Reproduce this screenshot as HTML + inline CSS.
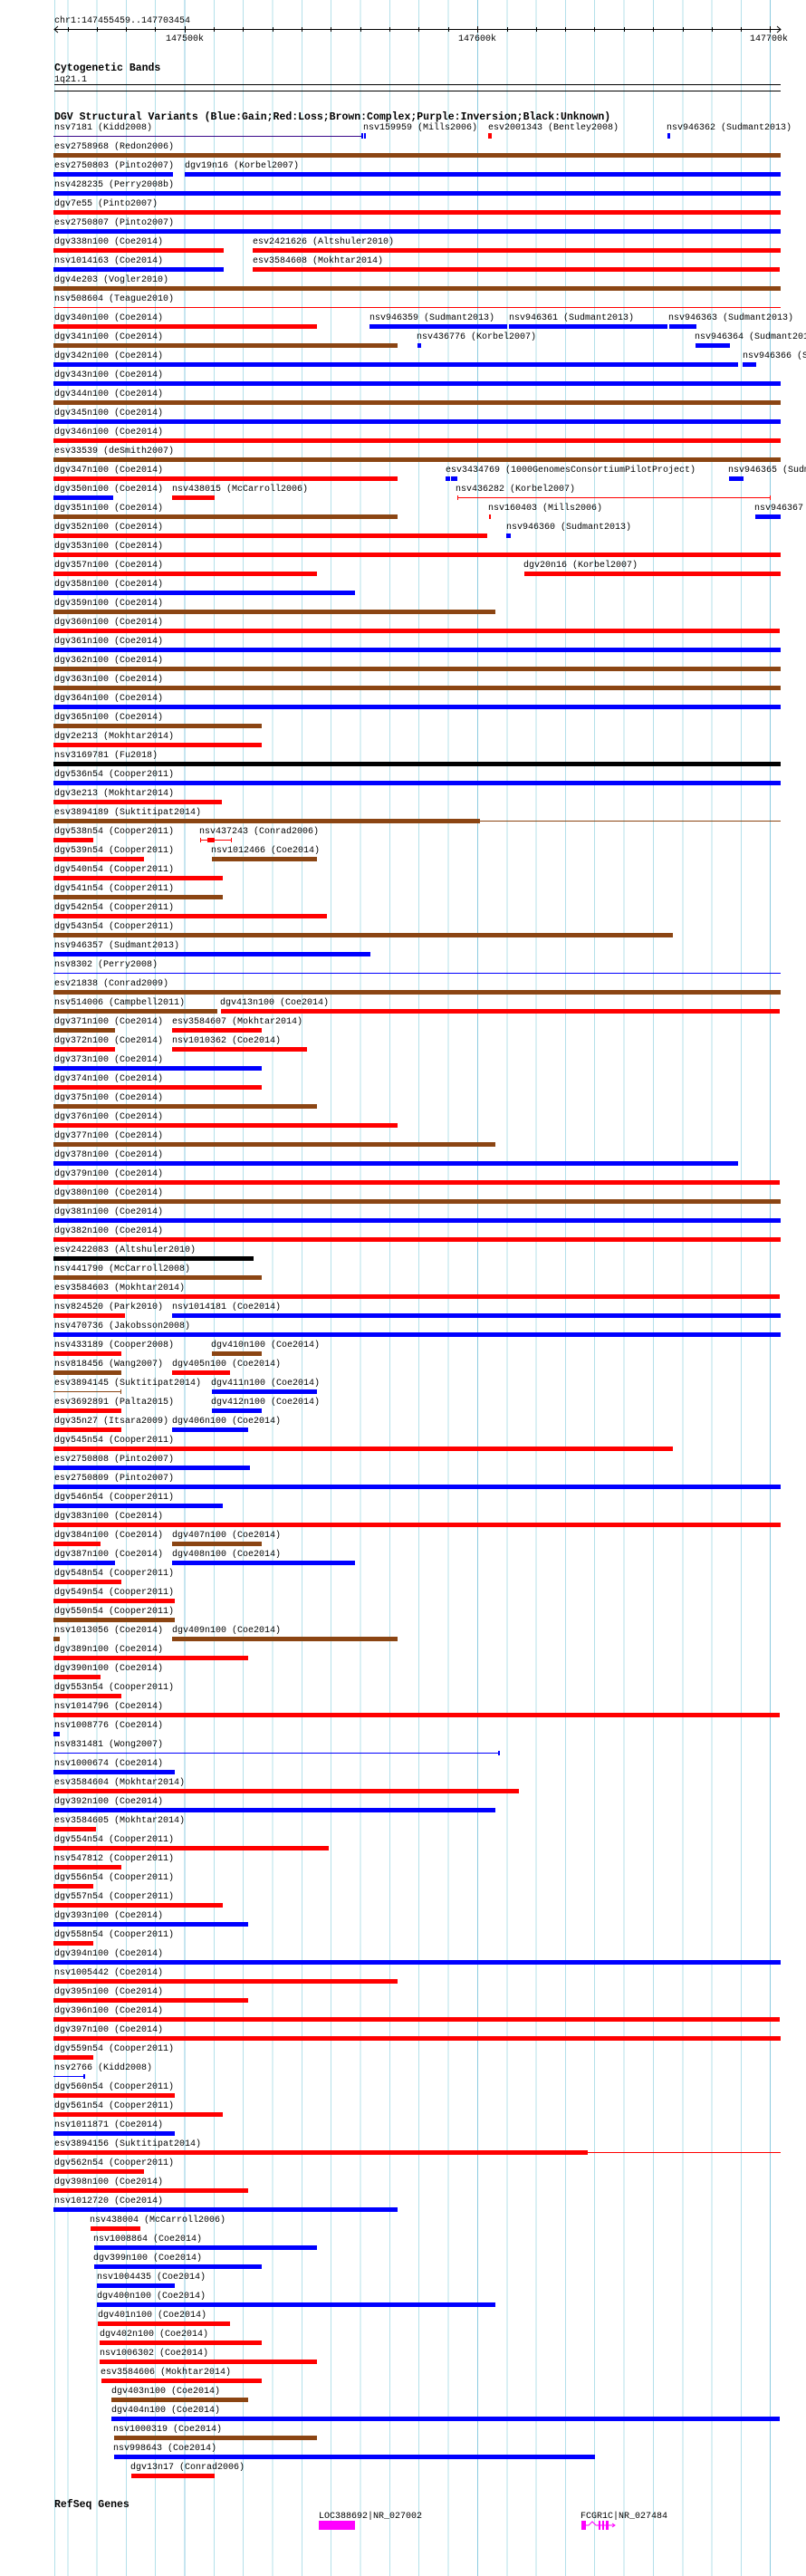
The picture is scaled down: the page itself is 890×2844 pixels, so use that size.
<!DOCTYPE html>
<html><head><meta charset="utf-8"><style>
html,body{margin:0;padding:0;background:#fff;}
svg{display:block}
text{font-family:"Liberation Mono",monospace;font-size:10px;fill:#000}
.b{font-weight:bold;font-size:11.5px}
.B{fill:#0000ff}.R{fill:#ff0000}.N{fill:#8b4513}.K{fill:#000}
</style></head><body>
<svg width="890" height="2844" viewBox="0 0 890 2844" xmlns="http://www.w3.org/2000/svg">
<rect width="890" height="2844" fill="#fff"/>
<g stroke="#b4e0ea" stroke-width="1">
<line x1="60.5" y1="0" x2="60.5" y2="2844"/>
<line x1="75" y1="0" x2="75" y2="2844"/><line x1="107" y1="0" x2="107" y2="2844"/><line x1="139.5" y1="0" x2="139.5" y2="2844"/><line x1="171.5" y1="0" x2="171.5" y2="2844"/>
<line x1="236.5" y1="0" x2="236.5" y2="2844"/><line x1="268.5" y1="0" x2="268.5" y2="2844"/><line x1="301" y1="0" x2="301" y2="2844"/><line x1="333.5" y1="0" x2="333.5" y2="2844"/><line x1="365.5" y1="0" x2="365.5" y2="2844"/><line x1="398" y1="0" x2="398" y2="2844"/><line x1="430.5" y1="0" x2="430.5" y2="2844"/><line x1="462.5" y1="0" x2="462.5" y2="2844"/><line x1="495" y1="0" x2="495" y2="2844"/>
<line x1="560" y1="0" x2="560" y2="2844"/><line x1="592" y1="0" x2="592" y2="2844"/><line x1="624.5" y1="0" x2="624.5" y2="2844"/><line x1="656.5" y1="0" x2="656.5" y2="2844"/><line x1="689" y1="0" x2="689" y2="2844"/><line x1="721.5" y1="0" x2="721.5" y2="2844"/><line x1="754" y1="0" x2="754" y2="2844"/><line x1="786" y1="0" x2="786" y2="2844"/><line x1="818.5" y1="0" x2="818.5" y2="2844"/>
</g>
<g stroke="#8ccbe0" stroke-width="1">
<line x1="204" y1="0" x2="204" y2="2844"/><line x1="527.5" y1="0" x2="527.5" y2="2844"/><line x1="850.5" y1="0" x2="850.5" y2="2844"/>
</g>
<!-- ruler -->
<text x="60" y="25">chr1:147455459..147703454</text>
<rect x="60" y="32" width="802" height="1" fill="#000"/>
<path d="M64 29 L60 32.5 L64 36 M858 29 L862 32.5 L858 36" stroke="#000" fill="none"/>
<g fill="#000">
<rect x="75" y="30" width="1" height="5"/><rect x="107" y="30" width="1" height="5"/><rect x="139" y="30" width="1" height="5"/><rect x="171" y="30" width="1" height="5"/><rect x="204" y="29" width="1" height="7"/><rect x="236" y="30" width="1" height="5"/><rect x="268" y="30" width="1" height="5"/><rect x="301" y="30" width="1" height="5"/><rect x="333" y="30" width="1" height="5"/><rect x="365" y="30" width="1" height="5"/><rect x="398" y="30" width="1" height="5"/><rect x="430" y="30" width="1" height="5"/><rect x="462" y="30" width="1" height="5"/><rect x="495" y="30" width="1" height="5"/><rect x="527" y="29" width="1" height="7"/><rect x="560" y="30" width="1" height="5"/><rect x="592" y="30" width="1" height="5"/><rect x="624" y="30" width="1" height="5"/><rect x="656" y="30" width="1" height="5"/><rect x="689" y="30" width="1" height="5"/><rect x="721" y="30" width="1" height="5"/><rect x="754" y="30" width="1" height="5"/><rect x="786" y="30" width="1" height="5"/><rect x="818" y="30" width="1" height="5"/><rect x="850" y="29" width="1" height="7"/>
</g>
<text x="183" y="45">147500k</text>
<text x="506" y="45">147600k</text>
<text x="828" y="45">147700k</text>
<text class="b" x="60" y="78">Cytogenetic Bands</text>
<text x="60" y="90">1q21.1</text>
<rect x="60" y="93" width="802" height="1" fill="#000"/>
<rect x="60" y="100" width="802" height="1" fill="#000"/>
<text class="b" x="60" y="132">DGV Structural Variants (Blue:Gain;Red:Loss;Brown:Complex;Purple:Inversion;Black:Unknown)</text>

<!-- rows -->
<g><text x="60" y="143">nsv7181 (Kidd2008)</text><rect x="59" y="150" width="340" height="1" fill="#3a0a8a"/><rect x="399" y="147" width="2" height="6" class="B"/><rect x="402" y="147" width="2" height="6" class="B"/>
<text x="401" y="143">nsv159959 (Mills2006)</text><text x="539" y="143">esv2001343 (Bentley2008)</text><rect x="539" y="147" width="4" height="6" class="R"/><text x="736" y="143">nsv946362 (Sudmant2013)</text><rect x="737" y="147" width="3" height="6" class="B"/></g>
<g transform="translate(0,21)"><text x="60" y="143">esv2758968 (Redon2006)</text><rect x="59" y="148" width="803" height="5" class="N"/></g>
<g transform="translate(0,42)"><text x="60" y="143">esv2750803 (Pinto2007)</text><rect x="59" y="148" width="132" height="5" class="B"/><text x="204" y="143">dgv19n16 (Korbel2007)</text><rect x="204" y="148" width="658" height="5" class="B"/></g>
<g transform="translate(0,63)"><text x="60" y="143">nsv428235 (Perry2008b)</text><rect x="59" y="148" width="803" height="5" class="B"/></g>
<g transform="translate(0,84)"><text x="60" y="143">dgv7e55 (Pinto2007)</text><rect x="59" y="148" width="803" height="5" class="R"/></g>
<g transform="translate(0,105)"><text x="60" y="143">esv2750807 (Pinto2007)</text><rect x="59" y="148" width="803" height="5" class="B"/></g>
<g transform="translate(0,126)"><text x="60" y="143">dgv338n100 (Coe2014)</text><rect x="59" y="148" width="188" height="5" class="R"/><text x="279" y="143">esv2421626 (Altshuler2010)</text><rect x="279" y="148" width="583" height="5" class="R"/></g>
<g transform="translate(0,147)"><text x="60" y="143">nsv1014163 (Coe2014)</text><rect x="59" y="148" width="188" height="5" class="B"/><text x="279" y="143">esv3584608 (Mokhtar2014)</text><rect x="279" y="148" width="582" height="5" class="R"/></g>
<g transform="translate(0,168)"><text x="60" y="143">dgv4e203 (Vogler2010)</text><rect x="59" y="148" width="803" height="5" class="N"/></g>
<g transform="translate(0,189)"><text x="60" y="143">nsv508604 (Teague2010)</text><rect x="59" y="150" width="803" height="1" class="R"/></g>
<g transform="translate(0,210)"><text x="60" y="143">dgv340n100 (Coe2014)</text><rect x="59" y="148" width="291" height="5" class="R"/><text x="408" y="143">nsv946359 (Sudmant2013)</text><rect x="408" y="148" width="152" height="5" class="B"/><text x="562" y="143">nsv946361 (Sudmant2013)</text><rect x="562" y="148" width="175" height="5" class="B"/><text x="738" y="143">nsv946363 (Sudmant2013)</text><rect x="739" y="148" width="30" height="5" class="B"/></g>
<g transform="translate(0,231)"><text x="60" y="143">dgv341n100 (Coe2014)</text><rect x="59" y="148" width="380" height="5" class="N"/><text x="460" y="143">nsv436776 (Korbel2007)</text><rect x="461" y="148" width="4" height="5" class="B"/><text x="767" y="143">nsv946364 (Sudmant2013)</text><rect x="768" y="148" width="38" height="5" class="B"/></g>
<g transform="translate(0,252)"><text x="60" y="143">dgv342n100 (Coe2014)</text><rect x="59" y="148" width="756" height="5" class="B"/><text x="820" y="143">nsv946366 (Sudmant2013)</text><rect x="820" y="148" width="15" height="5" class="B"/></g>
<g transform="translate(0,273)"><text x="60" y="143">dgv343n100 (Coe2014)</text><rect x="59" y="148" width="803" height="5" class="B"/></g>
<g transform="translate(0,294)"><text x="60" y="143">dgv344n100 (Coe2014)</text><rect x="59" y="148" width="803" height="5" class="N"/></g>
<g transform="translate(0,315)"><text x="60" y="143">dgv345n100 (Coe2014)</text><rect x="59" y="148" width="803" height="5" class="B"/></g>
<g transform="translate(0,336)"><text x="60" y="143">dgv346n100 (Coe2014)</text><rect x="59" y="148" width="803" height="5" class="R"/></g>
<g transform="translate(0,357)"><text x="60" y="143">esv33539 (deSmith2007)</text><rect x="59" y="148" width="803" height="5" class="N"/></g>
<g transform="translate(0,378)"><text x="60" y="143">dgv347n100 (Coe2014)</text><rect x="59" y="148" width="380" height="5" class="R"/><text x="492" y="143">esv3434769 (1000GenomesConsortiumPilotProject)</text><rect x="492" y="148" width="5" height="5" class="B"/><rect x="498" y="148" width="7" height="5" class="B"/><text x="804" y="143">nsv946365 (Sudmant2013)</text><rect x="805" y="148" width="16" height="5" class="B"/></g>
<g transform="translate(0,399)"><text x="60" y="143">dgv350n100 (Coe2014)</text><rect x="59" y="148" width="66" height="5" class="B"/><text x="190" y="143">nsv438015 (McCarroll2006)</text><rect x="190" y="148" width="47" height="5" class="R"/><text x="503" y="143">nsv436282 (Korbel2007)</text><rect x="505" y="150" width="346" height="1" class="R"/><rect x="505" y="148" width="1" height="5" class="R"/><rect x="850" y="148" width="1" height="5" class="R"/></g>
<g transform="translate(0,420)"><text x="60" y="143">dgv351n100 (Coe2014)</text><rect x="59" y="148" width="380" height="5" class="N"/><text x="539" y="143">nsv160403 (Mills2006)</text><rect x="540" y="148" width="2" height="5" class="R"/><text x="833" y="143">nsv946367 (Sudmant2013)</text><rect x="834" y="148" width="28" height="5" class="B"/></g>
<g transform="translate(0,441)"><text x="60" y="143">dgv352n100 (Coe2014)</text><rect x="59" y="148" width="479" height="5" class="R"/><text x="559" y="143">nsv946360 (Sudmant2013)</text><rect x="559" y="148" width="5" height="5" class="B"/></g>
<g transform="translate(0,462)"><text x="60" y="143">dgv353n100 (Coe2014)</text><rect x="59" y="148" width="803" height="5" class="R"/></g>
<g transform="translate(0,483)"><text x="60" y="143">dgv357n100 (Coe2014)</text><rect x="59" y="148" width="291" height="5" class="R"/><text x="578" y="143">dgv20n16 (Korbel2007)</text><rect x="579" y="148" width="283" height="5" class="R"/></g>
<g transform="translate(0,504)"><text x="60" y="143">dgv358n100 (Coe2014)</text><rect x="59" y="148" width="333" height="5" class="B"/></g>
<g transform="translate(0,525)"><text x="60" y="143">dgv359n100 (Coe2014)</text><rect x="59" y="148" width="488" height="5" class="N"/></g>
<g transform="translate(0,546)"><text x="60" y="143">dgv360n100 (Coe2014)</text><rect x="59" y="148" width="802" height="5" class="R"/></g>
<g transform="translate(0,567)"><text x="60" y="143">dgv361n100 (Coe2014)</text><rect x="59" y="148" width="803" height="5" class="B"/></g>
<g transform="translate(0,588)"><text x="60" y="143">dgv362n100 (Coe2014)</text><rect x="59" y="148" width="803" height="5" class="N"/></g>
<g transform="translate(0,609)"><text x="60" y="143">dgv363n100 (Coe2014)</text><rect x="59" y="148" width="803" height="5" class="N"/></g>
<g transform="translate(0,630)"><text x="60" y="143">dgv364n100 (Coe2014)</text><rect x="59" y="148" width="803" height="5" class="B"/></g>
<g transform="translate(0,651)"><text x="60" y="143">dgv365n100 (Coe2014)</text><rect x="59" y="148" width="230" height="5" class="N"/></g>
<g transform="translate(0,672)"><text x="60" y="143">dgv2e213 (Mokhtar2014)</text><rect x="59" y="148" width="230" height="5" class="R"/></g>
<g transform="translate(0,693)"><text x="60" y="143">nsv3169781 (Fu2018)</text><rect x="59" y="148" width="803" height="5" class="K"/></g>
<g transform="translate(0,714)"><text x="60" y="143">dgv536n54 (Cooper2011)</text><rect x="59" y="148" width="803" height="5" class="B"/></g>
<g transform="translate(0,735)"><text x="60" y="143">dgv3e213 (Mokhtar2014)</text><rect x="59" y="148" width="186" height="5" class="R"/></g>
<g transform="translate(0,756)"><text x="60" y="143">esv3894189 (Suktitipat2014)</text><rect x="59" y="148" width="471" height="5" class="N"/><rect x="530" y="150" width="332" height="1" class="N"/></g>
<g transform="translate(0,777)"><text x="60" y="143">dgv538n54 (Cooper2011)</text><rect x="59" y="148" width="44" height="5" class="R"/><text x="220" y="143">nsv437243 (Conrad2006)</text><rect x="221" y="150" width="34" height="1" class="R"/><rect x="221" y="148" width="1" height="5" class="R"/><rect x="255" y="148" width="1" height="5" class="R"/><rect x="229" y="148" width="8" height="5" class="R"/></g>
<g transform="translate(0,798)"><text x="60" y="143">dgv539n54 (Cooper2011)</text><rect x="59" y="148" width="100" height="5" class="R"/><text x="233" y="143">nsv1012466 (Coe2014)</text><rect x="234" y="148" width="116" height="5" class="N"/></g>
<g transform="translate(0,819)"><text x="60" y="143">dgv540n54 (Cooper2011)</text><rect x="59" y="148" width="187" height="5" class="R"/></g>
<g transform="translate(0,840)"><text x="60" y="143">dgv541n54 (Cooper2011)</text><rect x="59" y="148" width="187" height="5" class="N"/></g>
<g transform="translate(0,861)"><text x="60" y="143">dgv542n54 (Cooper2011)</text><rect x="59" y="148" width="302" height="5" class="R"/></g>
<g transform="translate(0,882)"><text x="60" y="143">dgv543n54 (Cooper2011)</text><rect x="59" y="148" width="684" height="5" class="N"/></g>
<g transform="translate(0,903)"><text x="60" y="143">nsv946357 (Sudmant2013)</text><rect x="59" y="148" width="350" height="5" class="B"/></g>
<g transform="translate(0,924)"><text x="60" y="143">nsv8302 (Perry2008)</text><rect x="59" y="150" width="803" height="1" class="B"/></g>
<g transform="translate(0,945)"><text x="60" y="143">esv21838 (Conrad2009)</text><rect x="59" y="148" width="803" height="5" class="N"/></g>
<g transform="translate(0,966)"><text x="60" y="143">nsv514006 (Campbell2011)</text><rect x="59" y="148" width="181" height="5" class="N"/><text x="243" y="143">dgv413n100 (Coe2014)</text><rect x="244" y="148" width="617" height="5" class="R"/></g>
<g transform="translate(0,987)"><text x="60" y="143">dgv371n100 (Coe2014)</text><rect x="59" y="148" width="68" height="5" class="N"/><text x="190" y="143">esv3584607 (Mokhtar2014)</text><rect x="190" y="148" width="99" height="5" class="R"/></g>
<g transform="translate(0,1008)"><text x="60" y="143">dgv372n100 (Coe2014)</text><rect x="59" y="148" width="68" height="5" class="R"/><text x="190" y="143">nsv1010362 (Coe2014)</text><rect x="190" y="148" width="149" height="5" class="R"/></g>
<g transform="translate(0,1029)"><text x="60" y="143">dgv373n100 (Coe2014)</text><rect x="59" y="148" width="230" height="5" class="B"/></g>
<g transform="translate(0,1050)"><text x="60" y="143">dgv374n100 (Coe2014)</text><rect x="59" y="148" width="230" height="5" class="R"/></g>
<g transform="translate(0,1071)"><text x="60" y="143">dgv375n100 (Coe2014)</text><rect x="59" y="148" width="291" height="5" class="N"/></g>
<g transform="translate(0,1092)"><text x="60" y="143">dgv376n100 (Coe2014)</text><rect x="59" y="148" width="380" height="5" class="R"/></g>
<g transform="translate(0,1113)"><text x="60" y="143">dgv377n100 (Coe2014)</text><rect x="59" y="148" width="488" height="5" class="N"/></g>
<g transform="translate(0,1134)"><text x="60" y="143">dgv378n100 (Coe2014)</text><rect x="59" y="148" width="756" height="5" class="B"/></g>
<g transform="translate(0,1155)"><text x="60" y="143">dgv379n100 (Coe2014)</text><rect x="59" y="148" width="802" height="5" class="R"/></g>
<g transform="translate(0,1176)"><text x="60" y="143">dgv380n100 (Coe2014)</text><rect x="59" y="148" width="803" height="5" class="N"/></g>
<g transform="translate(0,1197)"><text x="60" y="143">dgv381n100 (Coe2014)</text><rect x="59" y="148" width="803" height="5" class="B"/></g>
<g transform="translate(0,1218)"><text x="60" y="143">dgv382n100 (Coe2014)</text><rect x="59" y="148" width="803" height="5" class="R"/></g>
<g transform="translate(0,1239)"><text x="60" y="143">esv2422083 (Altshuler2010)</text><rect x="59" y="148" width="221" height="5" class="K"/></g>
<g transform="translate(0,1260)"><text x="60" y="143">nsv441790 (McCarroll2008)</text><rect x="59" y="148" width="230" height="5" class="N"/></g>
<g transform="translate(0,1281)"><text x="60" y="143">esv3584603 (Mokhtar2014)</text><rect x="59" y="148" width="802" height="5" class="R"/></g>
<g transform="translate(0,1302)"><text x="60" y="143">nsv824520 (Park2010)</text><rect x="59" y="148" width="79" height="5" class="R"/><text x="190" y="143">nsv1014181 (Coe2014)</text><rect x="190" y="148" width="672" height="5" class="B"/></g>
<g transform="translate(0,1323)"><text x="60" y="143">nsv470736 (Jakobsson2008)</text><rect x="59" y="148" width="803" height="5" class="B"/></g>
<g transform="translate(0,1344)"><text x="60" y="143">nsv433189 (Cooper2008)</text><rect x="59" y="148" width="75" height="5" class="R"/><text x="233" y="143">dgv410n100 (Coe2014)</text><rect x="234" y="148" width="55" height="5" class="N"/></g>
<g transform="translate(0,1365)"><text x="60" y="143">nsv818456 (Wang2007)</text><rect x="59" y="148" width="75" height="5" class="N"/><text x="190" y="143">dgv405n100 (Coe2014)</text><rect x="190" y="148" width="64" height="5" class="R"/></g>
<g transform="translate(0,1386)"><text x="60" y="143">esv3894145 (Suktitipat2014)</text><rect x="59" y="150" width="75" height="1" class="N"/><rect x="133" y="148" width="1" height="5" class="N"/><text x="233" y="143">dgv411n100 (Coe2014)</text><rect x="234" y="148" width="116" height="5" class="B"/></g>
<g transform="translate(0,1407)"><text x="60" y="143">esv3692891 (Palta2015)</text><rect x="59" y="148" width="75" height="5" class="R"/><text x="233" y="143">dgv412n100 (Coe2014)</text><rect x="234" y="148" width="55" height="5" class="B"/></g>
<g transform="translate(0,1428)"><text x="60" y="143">dgv35n27 (Itsara2009)</text><rect x="59" y="148" width="75" height="5" class="R"/><text x="190" y="143">dgv406n100 (Coe2014)</text><rect x="190" y="148" width="84" height="5" class="B"/></g>
<g transform="translate(0,1449)"><text x="60" y="143">dgv545n54 (Cooper2011)</text><rect x="59" y="148" width="684" height="5" class="R"/></g>
<g transform="translate(0,1470)"><text x="60" y="143">esv2750808 (Pinto2007)</text><rect x="59" y="148" width="217" height="5" class="B"/></g>
<g transform="translate(0,1491)"><text x="60" y="143">esv2750809 (Pinto2007)</text><rect x="59" y="148" width="803" height="5" class="B"/></g>
<g transform="translate(0,1512)"><text x="60" y="143">dgv546n54 (Cooper2011)</text><rect x="59" y="148" width="187" height="5" class="B"/></g>
<g transform="translate(0,1533)"><text x="60" y="143">dgv383n100 (Coe2014)</text><rect x="59" y="148" width="803" height="5" class="R"/></g>
<g transform="translate(0,1554)"><text x="60" y="143">dgv384n100 (Coe2014)</text><rect x="59" y="148" width="52" height="5" class="R"/><text x="190" y="143">dgv407n100 (Coe2014)</text><rect x="190" y="148" width="99" height="5" class="N"/></g>
<g transform="translate(0,1575)"><text x="60" y="143">dgv387n100 (Coe2014)</text><rect x="59" y="148" width="68" height="5" class="B"/><text x="190" y="143">dgv408n100 (Coe2014)</text><rect x="190" y="148" width="202" height="5" class="B"/></g>
<g transform="translate(0,1596)"><text x="60" y="143">dgv548n54 (Cooper2011)</text><rect x="59" y="148" width="75" height="5" class="R"/></g>
<g transform="translate(0,1617)"><text x="60" y="143">dgv549n54 (Cooper2011)</text><rect x="59" y="148" width="134" height="5" class="R"/></g>
<g transform="translate(0,1638)"><text x="60" y="143">dgv550n54 (Cooper2011)</text><rect x="59" y="148" width="134" height="5" class="N"/></g>
<g transform="translate(0,1659)"><text x="60" y="143">nsv1013056 (Coe2014)</text><rect x="59" y="148" width="7" height="5" class="N"/><text x="190" y="143">dgv409n100 (Coe2014)</text><rect x="190" y="148" width="249" height="5" class="N"/></g>
<g transform="translate(0,1680)"><text x="60" y="143">dgv389n100 (Coe2014)</text><rect x="59" y="148" width="215" height="5" class="R"/></g>
<g transform="translate(0,1701)"><text x="60" y="143">dgv390n100 (Coe2014)</text><rect x="59" y="148" width="52" height="5" class="R"/></g>
<g transform="translate(0,1722)"><text x="60" y="143">dgv553n54 (Cooper2011)</text><rect x="59" y="148" width="75" height="5" class="R"/></g>
<g transform="translate(0,1743)"><text x="60" y="143">nsv1014796 (Coe2014)</text><rect x="59" y="148" width="802" height="5" class="R"/></g>
<g transform="translate(0,1764)"><text x="60" y="143">nsv1008776 (Coe2014)</text><rect x="59" y="148" width="7" height="5" class="B"/></g>
<g transform="translate(0,1785)"><text x="60" y="143">nsv831481 (Wong2007)</text><rect x="59" y="150" width="492" height="1" class="B"/><rect x="550" y="148" width="2" height="5" class="B"/></g>
<g transform="translate(0,1806)"><text x="60" y="143">nsv1000674 (Coe2014)</text><rect x="59" y="148" width="134" height="5" class="B"/></g>
<g transform="translate(0,1827)"><text x="60" y="143">esv3584604 (Mokhtar2014)</text><rect x="59" y="148" width="514" height="5" class="R"/></g>
<g transform="translate(0,1848)"><text x="60" y="143">dgv392n100 (Coe2014)</text><rect x="59" y="148" width="488" height="5" class="B"/></g>
<g transform="translate(0,1869)"><text x="60" y="143">esv3584605 (Mokhtar2014)</text><rect x="59" y="148" width="47" height="5" class="R"/></g>
<g transform="translate(0,1890)"><text x="60" y="143">dgv554n54 (Cooper2011)</text><rect x="59" y="148" width="304" height="5" class="R"/></g>
<g transform="translate(0,1911)"><text x="60" y="143">nsv547812 (Cooper2011)</text><rect x="59" y="148" width="75" height="5" class="R"/></g>
<g transform="translate(0,1932)"><text x="60" y="143">dgv556n54 (Cooper2011)</text><rect x="59" y="148" width="44" height="5" class="R"/></g>
<g transform="translate(0,1953)"><text x="60" y="143">dgv557n54 (Cooper2011)</text><rect x="59" y="148" width="187" height="5" class="R"/></g>
<g transform="translate(0,1974)"><text x="60" y="143">dgv393n100 (Coe2014)</text><rect x="59" y="148" width="215" height="5" class="B"/></g>
<g transform="translate(0,1995)"><text x="60" y="143">dgv558n54 (Cooper2011)</text><rect x="59" y="148" width="44" height="5" class="R"/></g>
<g transform="translate(0,2016)"><text x="60" y="143">dgv394n100 (Coe2014)</text><rect x="59" y="148" width="803" height="5" class="B"/></g>
<g transform="translate(0,2037)"><text x="60" y="143">nsv1005442 (Coe2014)</text><rect x="59" y="148" width="380" height="5" class="R"/></g>
<g transform="translate(0,2058)"><text x="60" y="143">dgv395n100 (Coe2014)</text><rect x="59" y="148" width="215" height="5" class="R"/></g>
<g transform="translate(0,2079)"><text x="60" y="143">dgv396n100 (Coe2014)</text><rect x="59" y="148" width="802" height="5" class="R"/></g>
<g transform="translate(0,2100)"><text x="60" y="143">dgv397n100 (Coe2014)</text><rect x="59" y="148" width="803" height="5" class="R"/></g>
<g transform="translate(0,2121)"><text x="60" y="143">dgv559n54 (Cooper2011)</text><rect x="59" y="148" width="44" height="5" class="R"/></g>
<g transform="translate(0,2142)"><text x="60" y="143">nsv2766 (Kidd2008)</text><rect x="59" y="150" width="34" height="1" class="B"/><rect x="92" y="148" width="2" height="5" class="B"/></g>
<g transform="translate(0,2163)"><text x="60" y="143">dgv560n54 (Cooper2011)</text><rect x="59" y="148" width="134" height="5" class="R"/></g>
<g transform="translate(0,2184)"><text x="60" y="143">dgv561n54 (Cooper2011)</text><rect x="59" y="148" width="187" height="5" class="R"/></g>
<g transform="translate(0,2205)"><text x="60" y="143">nsv1011871 (Coe2014)</text><rect x="59" y="148" width="134" height="5" class="B"/></g>
<g transform="translate(0,2226)"><text x="60" y="143">esv3894156 (Suktitipat2014)</text><rect x="59" y="148" width="590" height="5" class="R"/><rect x="649" y="150" width="213" height="1" class="R"/></g>
<g transform="translate(0,2247)"><text x="60" y="143">dgv562n54 (Cooper2011)</text><rect x="59" y="148" width="100" height="5" class="R"/></g>
<g transform="translate(0,2268)"><text x="60" y="143">dgv398n100 (Coe2014)</text><rect x="59" y="148" width="215" height="5" class="R"/></g>
<g transform="translate(0,2289)"><text x="60" y="143">nsv1012720 (Coe2014)</text><rect x="59" y="148" width="380" height="5" class="B"/></g>
<g transform="translate(0,2310)"><text x="99" y="143">nsv438004 (McCarroll2006)</text><rect x="100" y="148" width="55" height="5" class="R"/></g>
<g transform="translate(0,2331)"><text x="103" y="143">nsv1008864 (Coe2014)</text><rect x="104" y="148" width="246" height="5" class="B"/></g>
<g transform="translate(0,2352)"><text x="103" y="143">dgv399n100 (Coe2014)</text><rect x="104" y="148" width="185" height="5" class="B"/></g>
<g transform="translate(0,2373)"><text x="107" y="143">nsv1004435 (Coe2014)</text><rect x="107" y="148" width="86" height="5" class="B"/></g>
<g transform="translate(0,2394)"><text x="107" y="143">dgv400n100 (Coe2014)</text><rect x="107" y="148" width="440" height="5" class="B"/></g>
<g transform="translate(0,2415)"><text x="108" y="143">dgv401n100 (Coe2014)</text><rect x="108" y="148" width="146" height="5" class="R"/></g>
<g transform="translate(0,2436)"><text x="110" y="143">dgv402n100 (Coe2014)</text><rect x="110" y="148" width="179" height="5" class="R"/></g>
<g transform="translate(0,2457)"><text x="110" y="143">nsv1006302 (Coe2014)</text><rect x="110" y="148" width="240" height="5" class="R"/></g>
<g transform="translate(0,2478)"><text x="111" y="143">esv3584606 (Mokhtar2014)</text><rect x="112" y="148" width="177" height="5" class="R"/></g>
<g transform="translate(0,2499)"><text x="123" y="143">dgv403n100 (Coe2014)</text><rect x="123" y="148" width="151" height="5" class="N"/></g>
<g transform="translate(0,2520)"><text x="123" y="143">dgv404n100 (Coe2014)</text><rect x="123" y="148" width="738" height="5" class="B"/></g>
<g transform="translate(0,2541)"><text x="125" y="143">nsv1000319 (Coe2014)</text><rect x="126" y="148" width="224" height="5" class="N"/></g>
<g transform="translate(0,2562)"><text x="125" y="143">nsv998643 (Coe2014)</text><rect x="126" y="148" width="531" height="5" class="B"/></g>
<g transform="translate(0,2583)"><text x="144" y="143">dgv13n17 (Conrad2006)</text><rect x="145" y="148" width="92" height="5" class="R"/></g>

<!-- RefSeq -->
<text class="b" x="60" y="2768">RefSeq Genes</text>
<text x="352" y="2780">LOC388692|NR_027002</text>
<rect x="352" y="2783" width="40" height="10" fill="#ff00ff"/>
<text x="641" y="2780">FCGR1C|NR_027484</text>
<g fill="#ff00ff" stroke="none">
<rect x="642" y="2783" width="5" height="10"/>
<rect x="661" y="2783" width="2" height="10"/>
<rect x="665" y="2783" width="2" height="10"/>
<rect x="669" y="2783" width="3" height="10"/>
</g>
<path d="M647 2788 L650 2788 L654 2784 L658 2788 L661 2788 M663 2788 L665 2788 M667 2788 L669 2788 M672 2788 L679 2788 M676 2786 L679 2788 L676 2790" stroke="#ff00ff" fill="none" stroke-width="1"/>
</svg>
</body></html>
